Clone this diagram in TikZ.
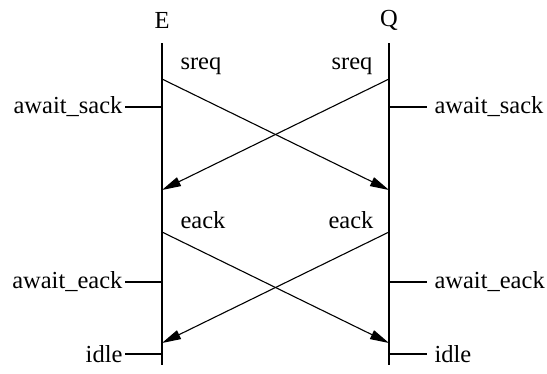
\documentclass[tikz,border=0pt]{standalone}
\usepackage{fontspec}
\setmainfont{Liberation Serif}
\usetikzlibrary{arrows.meta}
\begin{document}
\begin{tikzpicture}[x=1pt,y=-1pt,line width=1.1pt,
    msg/.style={-{Triangle[length=19pt,width=9.5pt]}},
    lbl/.style={font=\fontsize{24.5}{28}\selectfont,inner sep=2pt},
    lstate/.style={lbl,anchor=east},
    rstate/.style={lbl,anchor=west,inner xsep=7pt}]
  \useasboundingbox (0,0) rectangle (547,373);
  % the two processes
  \node[lbl] (E) at (162,20) {E};
  \node[lbl] (Q) at (389,20) {Q};
  \coordinate (Etop) at (162,43);
  \coordinate (Ebot) at (162,365);
  \coordinate (Qtop) at (389,43);
  \coordinate (Qbot) at (389,365);
  \draw (Etop) -- (Ebot);
  \draw (Qtop) -- (Qbot);
  % messages
  \coordinate (Es) at (162,79);  \coordinate (Qs) at (389,79);
  \coordinate (Esr) at (162,190); \coordinate (Qsr) at (389,190);
  \coordinate (Ee) at (162,232); \coordinate (Qe) at (389,232);
  \coordinate (Eer) at (162,343); \coordinate (Qer) at (389,343);
  \draw[msg] (Es) -- (Qsr);
  \draw[msg] (Qs) -- (Esr);
  \draw[msg] (Ee) -- (Qer);
  \draw[msg] (Qe) -- (Eer);
  \node[lbl,anchor=west] (sreqE) at (178,66) {sreq};
  \node[lbl,anchor=east] (sreqQ) at (375,66) {sreq};
  \node[lbl,anchor=west] (eackE) at (178,220) {eack};
  \node[lbl,anchor=east] (eackQ) at (376,220) {eack};
  % states
  \coordinate (Ews) at (162,107); \coordinate (Qws) at (389,107);
  \coordinate (Ewe) at (162,282); \coordinate (Qwe) at (389,282);
  \coordinate (Ei) at (162,354);  \coordinate (Qi) at (389,354);
  \node[lstate] (ews) at (125,107) {await\_sack};
  \node[rstate] (qws) at (427,107) {await\_sack};
  \node[lstate] (ewe) at (125,282) {await\_eack};
  \node[rstate] (qwe) at (427,282) {await\_eack};
  \node[lstate] (ei) at (125,354) {idle};
  \node[rstate] (qi) at (427,354) {idle};
  \draw (Ews) -- (ews.east);
  \draw (Qws) -- (qws.west);
  \draw (Ewe) -- (ewe.east);
  \draw (Qwe) -- (qwe.west);
  \draw (Ei) -- (ei.east);
  \draw (Qi) -- (qi.west);
\end{tikzpicture}
\end{document}
